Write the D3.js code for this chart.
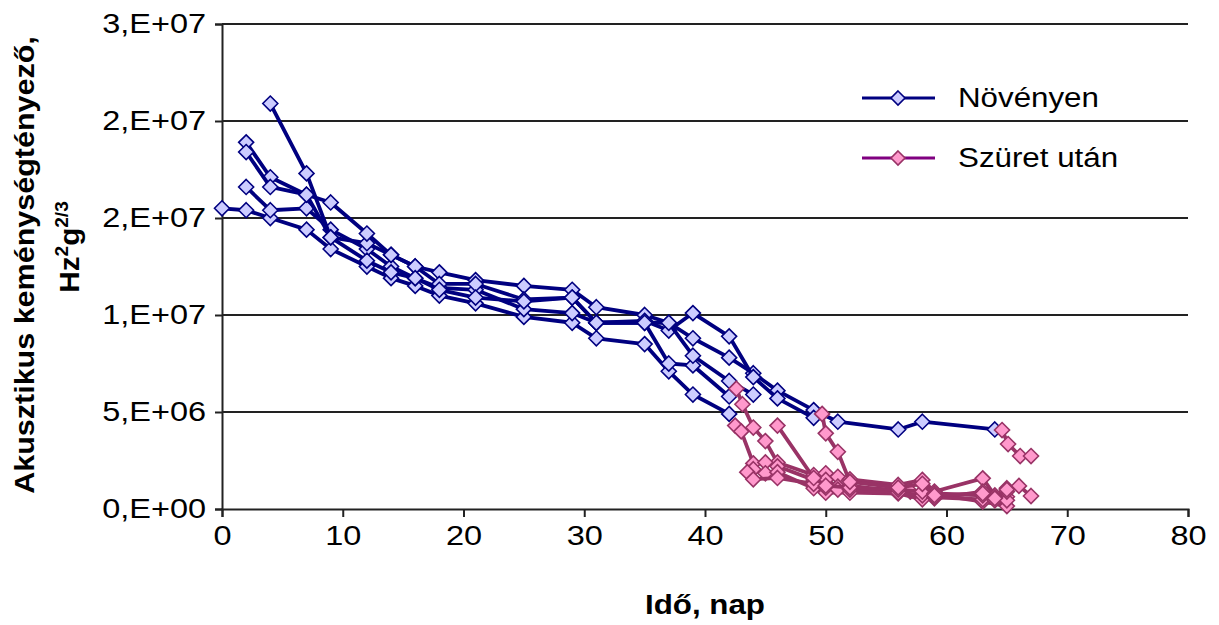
<!DOCTYPE html>
<html><head><meta charset="utf-8">
<script src="https://cdn.jsdelivr.net/npm/d3@7"></script>
<style>
html,body{margin:0;padding:0;background:#fff;}
svg{display:block;font-family:"Liberation Sans",Arial,sans-serif;}
</style></head>
<body>
<svg id="c" width="1219" height="625"></svg>
<script>
// ---- data ----
const yTicks = [0, 5e6, 1e7, 1.5e7, 2e7, 2.5e7];
const yTickLabels = ["0,E+00", "5,E+06", "1,E+07", "2,E+07", "2,E+07", "3,E+07"];
const xTicks = [0, 10, 20, 30, 40, 50, 60, 70, 80];
const legendLabels = ["Növényen", "Szüret után"];

// Növényen series: [day, value (×1e6)]
const novenyen1 = [[0,15.5],[2,15.4],[4,15.0],[7,14.4],[9,13.4],[12,12.5],[14,11.9],[16,11.5],[18,11.0],[21,10.6],[25,9.9],[29,9.6],[31,8.8],[35,8.5],[37,7.1],[39,5.9],[42,4.9]];
const novenyen2 = [[2,16.6],[4,15.4],[7,15.5],[9,14.4],[12,13.4],[14,12.5],[16,11.9],[18,11.4],[21,11.3],[25,10.3],[29,10.1],[31,9.6],[35,9.6],[37,7.5],[39,7.4],[42,5.8]];
const novenyen3 = [[2,18.9],[4,17.1],[7,16.2],[9,14.0],[12,13.7],[14,13.1],[16,12.5],[18,12.2],[21,11.8],[25,11.5],[29,11.3],[31,10.4],[35,10.0],[37,9.6],[39,8.8],[42,7.8],[44,7.0],[46,6.1],[49,5.1],[51,4.5],[56,4.1],[58,4.5],[64,4.1]];
const novenyen4 = [[2,18.4],[4,16.6],[7,16.2],[9,15.8],[12,14.2],[14,13.1],[16,12.5],[18,11.6],[21,11.6],[25,10.8],[29,10.9],[31,9.6],[35,9.7],[37,9.2],[39,10.1],[42,8.9],[44,6.8],[46,5.7],[49,4.7]];
const novenyen5 = [[4,20.9],[7,17.3],[9,14.0],[12,12.8],[14,12.2],[16,11.9],[18,11.3],[21,10.9],[25,10.7],[29,10.9],[31,9.6],[35,9.6],[37,9.6],[39,7.9],[42,6.6],[44,5.9]];

// Szüret után series
const szuret1 = [[42.6,6.2],[43.1,5.4],[44,4.2],[45,3.5],[46,2.4],[49,1.75],[50,1.84],[51,1.66],[52,1.53],[56,1.24],[58,1.5],[59,0.9],[63,1.58],[64,0.7],[65,1.07],[66,1.19],[67,0.67]];
const szuret2 = [[42.5,4.3],[43,4.0],[44,2.35],[45,2.4],[46,2.2],[49,1.5],[50,1.5],[51,1.15],[52,1.2],[56,0.9],[57,0.9],[58,0.8],[59,0.55],[63,0.9],[64,0.5],[65,0.63]];
const szuret3 = [[44,2.05],[45,1.84],[46,1.9],[49,1.07],[50,0.84],[52,0.84],[56,0.8],[58,0.5],[59,0.75],[63,0.38],[65,0.15]];
const szuret4 = [[43.5,1.9],[44,1.53],[46,1.6],[49,1.3],[50,1.1],[51,1.0],[52,1.0],[56,0.85],[58,0.7],[59,0.6],[63,0.5],[64,0.45],[65,0.45]];
const szuret5 = [[46,4.3],[49,1.6],[50,1.2],[52,1.1],[56,1.0],[58,0.9],[59,0.8],[63,0.7],[64,0.6],[65,0.9]];
const szuret6 = [[49.7,4.9],[50,3.9],[51,2.95],[52,1.4],[56,1.1],[58,1.3],[59,0.7],[63,0.8],[64,0.55],[65,1.0]];
const szuret7 = [[64.6,4.07],[65.1,3.35],[66.1,2.73],[67,2.73]];

const novenyenSeries = [novenyen1, novenyen2, novenyen3, novenyen4, novenyen5];
const szuretSeries = [szuret1, szuret2, szuret3, szuret4, szuret5, szuret6, szuret7];

// ---- drawing ----
const SX = 1.16;
const svg = d3.select("#c");
const x = d3.scaleLinear().domain([0, 80]).range([222, 1188]);
const y = d3.scaleLinear().domain([0, 2.5e7]).range([509, 24]);

// gridlines
svg.append("g").selectAll("line").data(yTicks.slice(1)).join("line")
  .attr("x1", x(0)).attr("x2", x(80))
  .attr("y1", d => y(d)).attr("y2", d => y(d))
  .attr("stroke", "#222").attr("stroke-width", 2);

// axes
const yAxis = svg.append("g").attr("transform", `translate(${x(0)},0)`)
  .call(d3.axisLeft(y).tickValues(yTicks).tickFormat((d, i) => yTickLabels[i]).tickSize(7).tickPadding(10));
const xAxis = svg.append("g").attr("transform", `translate(0,${y(0)})`)
  .call(d3.axisBottom(x).tickValues(xTicks).tickFormat(d3.format("d")).tickSize(8).tickPadding(8));
[yAxis, xAxis].forEach(a => {
  a.select(".domain").attr("stroke", "#222").attr("stroke-width", 2);
  a.selectAll(".tick line").attr("stroke", "#222").attr("stroke-width", 2);
  a.selectAll("text").attr("font-family", "Liberation Sans, Arial, sans-serif")
    .attr("font-size", 28).attr("fill", "#000");
});
yAxis.selectAll(".tick text").attr("transform", `scale(${SX},1)`).attr("x", -16 / SX);
xAxis.selectAll(".tick text").attr("transform", `scale(${SX},1)`).attr("x", 0);

function diamondPath(r) {
  return `M0,${-r}L${r},0L0,${r}L${-r},0Z`;
}

const line = d3.line().x(d => x(d[0])).y(d => y(d[1] * 1e6));

function drawSeries(data, lineColor, fill, stroke) {
  const g = svg.append("g");
  g.append("path").attr("d", line(data)).attr("fill", "none")
    .attr("stroke", lineColor).attr("stroke-width", 3.8).attr("stroke-linejoin", "round");
  g.selectAll("path.m").data(data).join("path").attr("class", "m")
    .attr("d", diamondPath(7.5))
    .attr("transform", d => `translate(${x(d[0])},${y(d[1] * 1e6)})`)
    .attr("fill", fill).attr("stroke", stroke).attr("stroke-width", 1.6);
}
novenyenSeries.forEach(s => drawSeries(s, "#000080", "#ccccff", "#000080"));
szuretSeries.forEach(s => drawSeries(s, "#993366", "#ff99cc", "#993366"));

// legend
const legend = [
  {label: legendLabels[0], yy: 98, line: "#000080", fill: "#ccccff", stroke: "#000080"},
  {label: legendLabels[1], yy: 158, line: "#800080", fill: "#ff99cc", stroke: "#993366"}
];
legend.forEach(l => {
  svg.append("line").attr("x1", 862).attr("x2", 935).attr("y1", l.yy).attr("y2", l.yy)
    .attr("stroke", l.line).attr("stroke-width", 3);
  svg.append("path").attr("d", diamondPath(7)).attr("transform", `translate(898,${l.yy})`)
    .attr("fill", l.fill).attr("stroke", l.stroke).attr("stroke-width", 1.6);
  svg.append("text").attr("transform", `translate(958,${l.yy + 9}) scale(${SX},1)`)
    .attr("font-size", 27).text(l.label);
});

// axis titles
svg.append("text").attr("transform", `translate(705,614) scale(${SX},1)`)
  .attr("text-anchor", "middle").attr("font-size", 27).attr("font-weight", "bold").text("Idő, nap");

svg.append("text").attr("transform", `translate(34,265) rotate(-90) scale(1.09,1)`)
  .attr("text-anchor", "middle").attr("font-size", 28).attr("font-weight", "bold")
  .text("Akusztikus keménységtényező,");
const t2 = svg.append("text").attr("transform", `translate(79,247) rotate(-90) scale(1.06,1)`)
  .attr("text-anchor", "middle").attr("font-size", 28).attr("font-weight", "bold");
t2.append("tspan").text("Hz");
t2.append("tspan").attr("font-size", 18).attr("dy", -11).text("2");
t2.append("tspan").attr("font-size", 28).attr("dy", 11).text("g");
t2.append("tspan").attr("font-size", 18).attr("dy", -11).text("2/3");
</script>
</body></html>
